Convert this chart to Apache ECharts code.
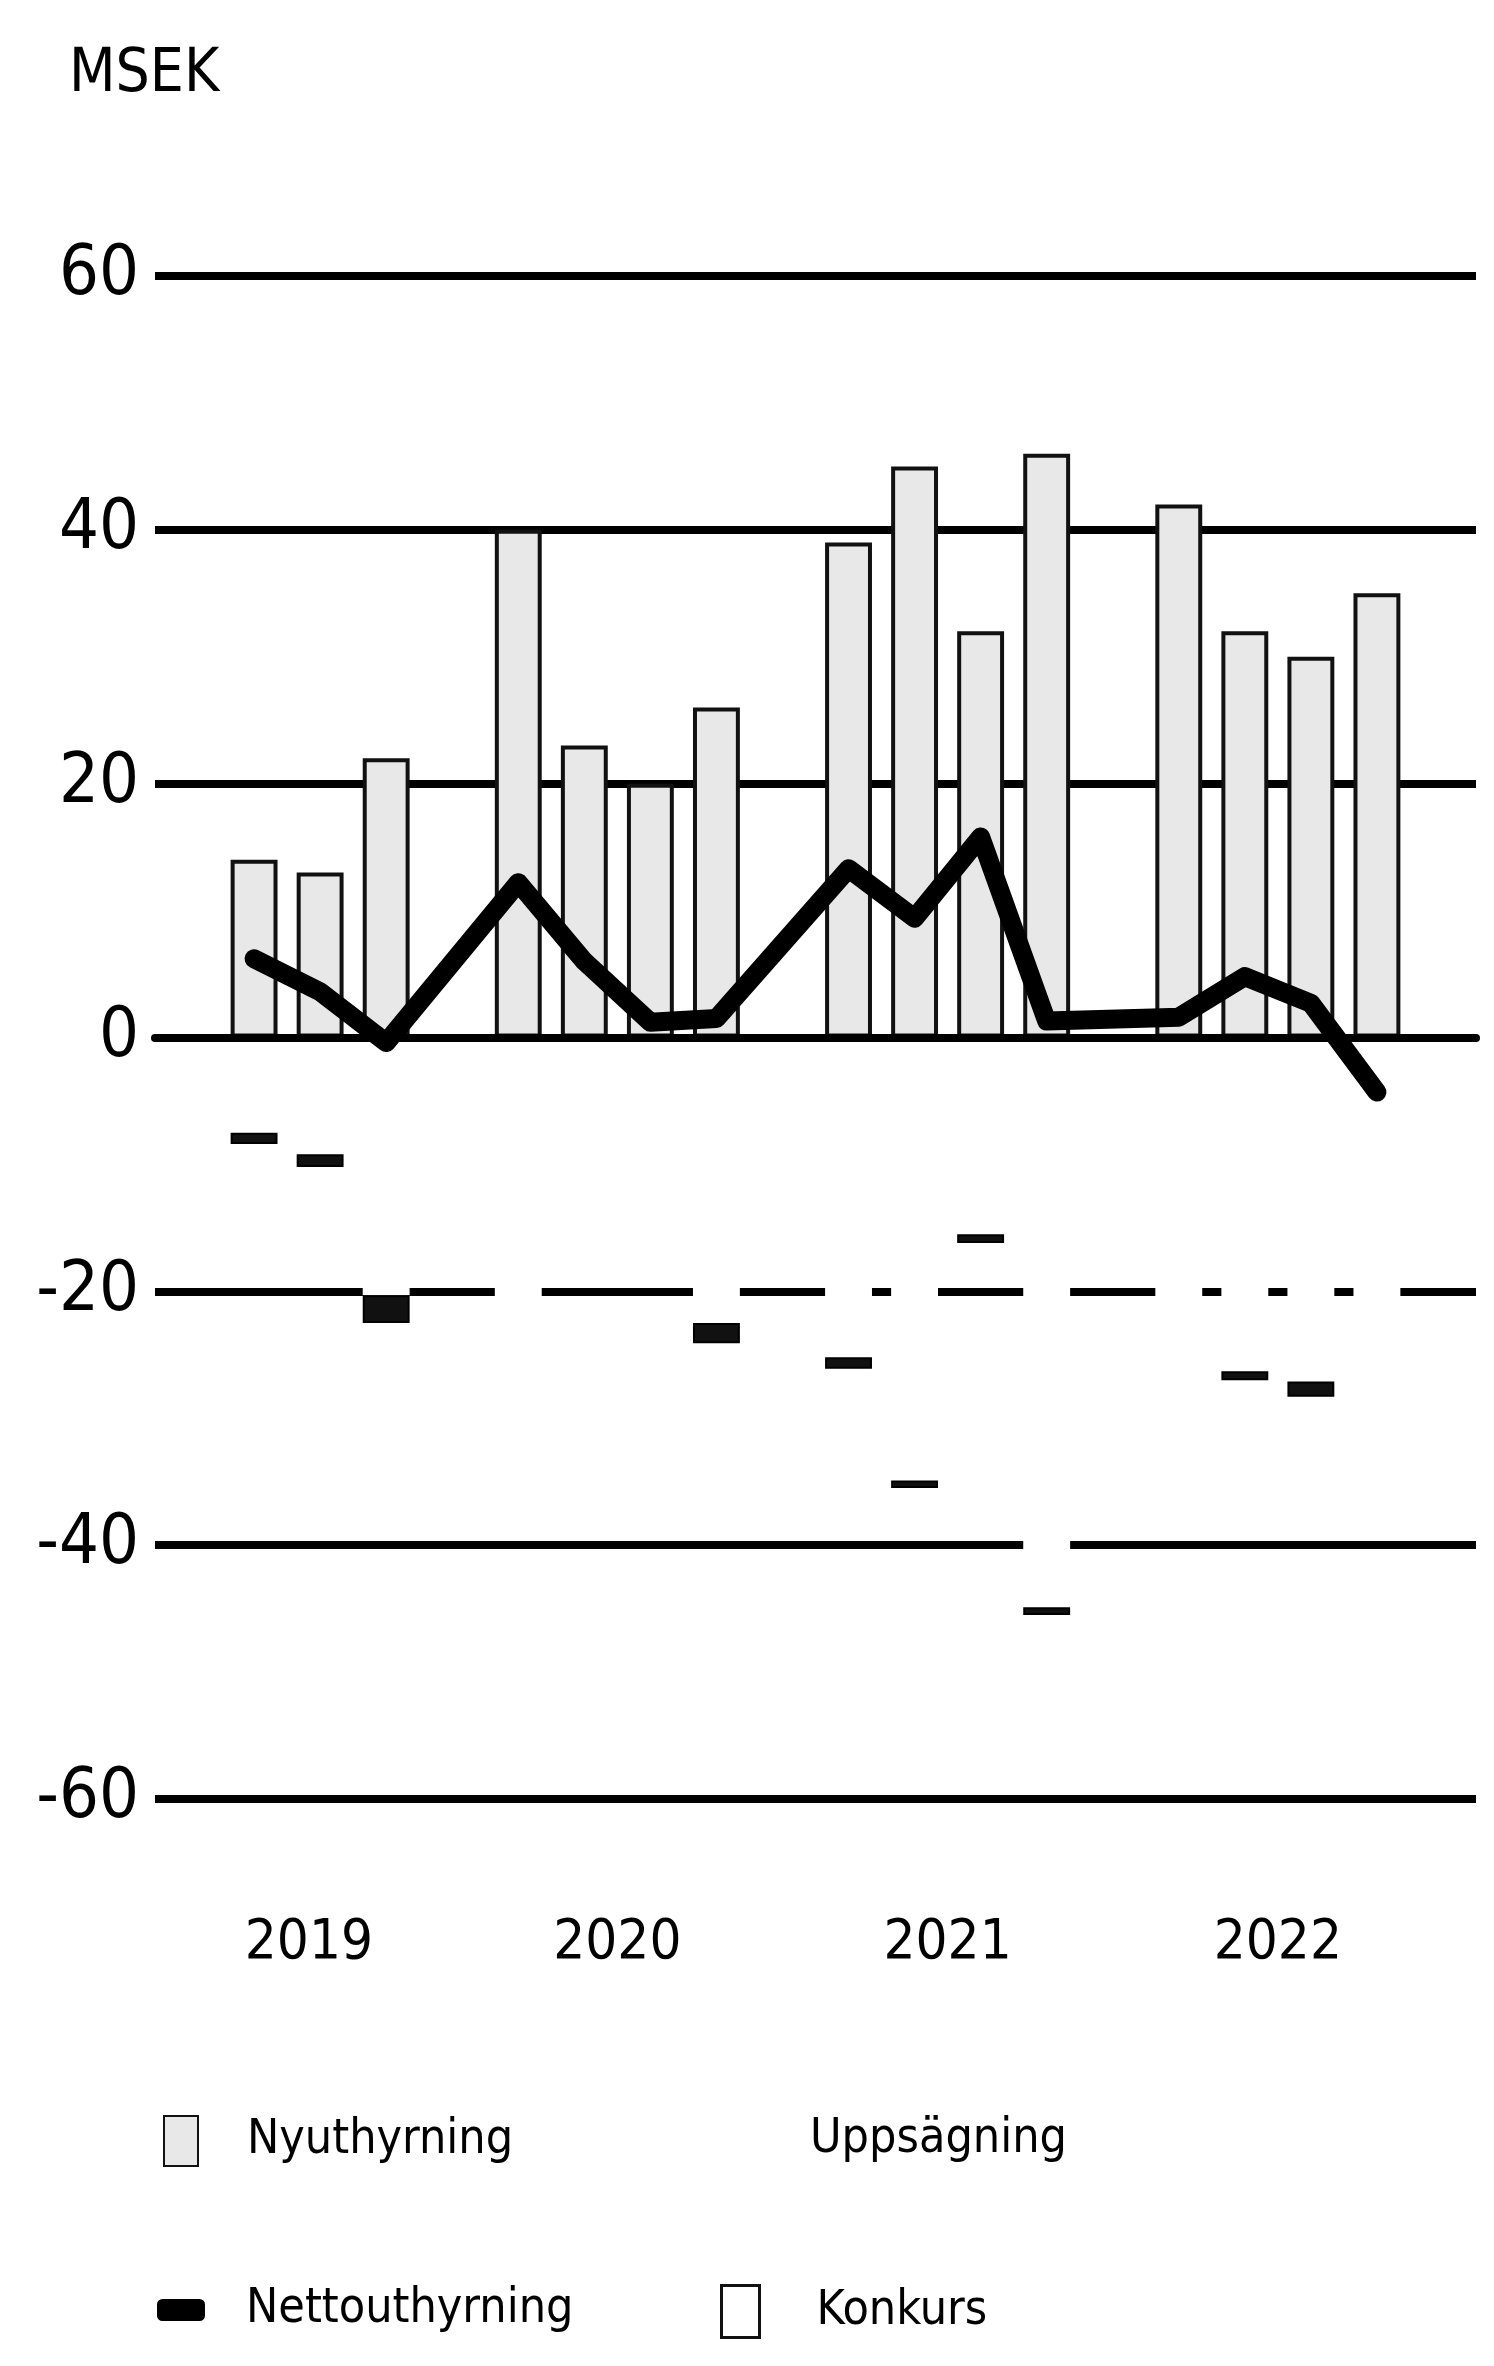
<!DOCTYPE html>
<html>
<head>
<meta charset="utf-8">
<script src="https://cdn.jsdelivr.net/npm/echarts@6/dist/echarts.min.js"></script>
<style>
html,body{margin:0;padding:0;background:#fff;}
#chart{width:1494px;height:2366px;}
</style>
</head>
<body>
<div id="chart"></div>
<script>
// Quarter slots (a blank slot separates the years)
const categories = ['2019 K1','2019 K2','2019 K3','2019 K4','',
  '2020 K1','2020 K2','2020 K3','2020 K4',' ',
  '2021 K1','2021 K2','2021 K3','2021 K4','  ',
  '2022 K1','2022 K2','2022 K3','2022 K4','   '];
const nyuthyrning    = [null, 14, 13, 22, null, 40, 23, 20, 26, null, 39, 45, 32, 46, null, 42, 32, 30, 35, null];
const uppsagning     = [null, -7.5, -9.2, -20.3, null, -27.5, -17, -18, -22.5, null, -25.2, -34.9, -15.5, -44.9, null, -39.3, -26.3, -27.1, -38.8, null];
const konkurs        = [null, -0.9, -1.0, -2.2, null, null, null, null, -1.6, null, -0.9, -0.6, -0.7, -0.6, null, null, -0.7, -1.2, null, null];
const nettouthyrning = [null, 6.2, 3.6, -0.4, null, 12.2, 6, 1.2, 1.5, null, 13.3, 9.4, 15.8, 1.3, null, 1.6, 4.8, 2.7, -4.3, null];
const yearLabels = ['2019', '2020', '2021', '2022'];
const yTicks = [-60, -40, -20, 0, 20, 40, 60];
const unitLabel = 'MSEK';

const yearCenters = [2.33, 7, 12, 17];
const FONT = '"Liberation Sans Narrow", "DejaVu Sans Condensed", "Liberation Sans", sans-serif';

const chart = echarts.init(document.getElementById('chart'), null, {renderer: 'canvas'});

function legendBox(name, left, top, w, h, pad, extra) {
  return Object.assign({
    show: true,
    left: left, top: top,
    itemWidth: w, itemHeight: h,
    data: [name],
    selectedMode: false,
    textStyle: {fontFamily: FONT, fontSize: 48, color: '#000', padding: [0, 0, 0, pad]}
  }, extra || {});
}

chart.setOption({
  backgroundColor: '#fff',
  animation: false,
  title: {
    text: unitLabel, left: 64, top: 40,
    textStyle: {fontFamily: FONT, fontSize: 60, fontWeight: 'normal', color: '#000'}
  },
  grid: {left: 155, right: 18, top: 276, bottom: 567, containLabel: false},
  legend: [
    legendBox('Nyuthyrning', 158, 2110, 34, 50, 44, {icon: 'rect'}),
    legendBox('Uppsägning', 700, 2110, 40, 50, 60, {icon: 'rect'}),
    legendBox('Nettouthyrning', 152, 2281, 48, 22, 36, {icon: 'roundRect'}),
    legendBox('Konkurs', 715, 2279, 38, 52, 52, {icon: 'rect', data: [{name: 'Konkurs', itemStyle: {color: '#fff', borderColor: '#111', borderWidth: 3}}]})
  ],
  xAxis: [
    {
      type: 'category', data: categories, boundaryGap: true, z: 3,
      axisLine: {show: true, onZero: true, lineStyle: {color: '#000', width: 8}},
      axisTick: {show: false}, axisLabel: {show: false}, splitLine: {show: false}
    },
    {
      type: 'value', min: 0, max: categories.length, position: 'bottom',
      axisLine: {show: false}, axisTick: {show: false}, splitLine: {show: false},
      axisLabel: {
        show: true, customValues: yearCenters, margin: 116,
        fontFamily: FONT, fontSize: 56, color: '#000',
        formatter: function (v) { const i = yearCenters.indexOf(v); return i >= 0 ? yearLabels[i] : ''; }
      }
    }
  ],
  yAxis: {
    type: 'value', min: yTicks[0], max: yTicks[yTicks.length - 1], interval: 20,
    axisLine: {show: false}, axisTick: {show: false},
    splitLine: {show: true, lineStyle: {color: '#000', width: 8}},
    axisLabel: {margin: 16, fontFamily: FONT, fontSize: 70, color: '#000'}
  },
  series: [
    {
      name: 'Nyuthyrning', type: 'bar', stack: 'a', data: nyuthyrning, barWidth: '71%',
      itemStyle: {color: '#e8e8e8', borderColor: '#111', borderWidth: 4}
    },
    {
      name: 'Uppsägning', type: 'bar', stack: 'a', data: uppsagning, barWidth: '71%',
      itemStyle: {color: '#ffffff', borderWidth: 0}
    },
    {
      name: 'Konkurs', type: 'bar', stack: 'a', data: konkurs, barWidth: '71%',
      itemStyle: {color: '#111', borderColor: '#000', borderWidth: 2}
    },
    {
      name: 'Nettouthyrning', type: 'line', data: nettouthyrning, connectNulls: true,
      symbol: 'none', z: 5,
      itemStyle: {color: '#000'},
      lineStyle: {color: '#000', width: 19, cap: 'round', join: 'round'}
    }
  ]
});
</script>
</body>
</html>
